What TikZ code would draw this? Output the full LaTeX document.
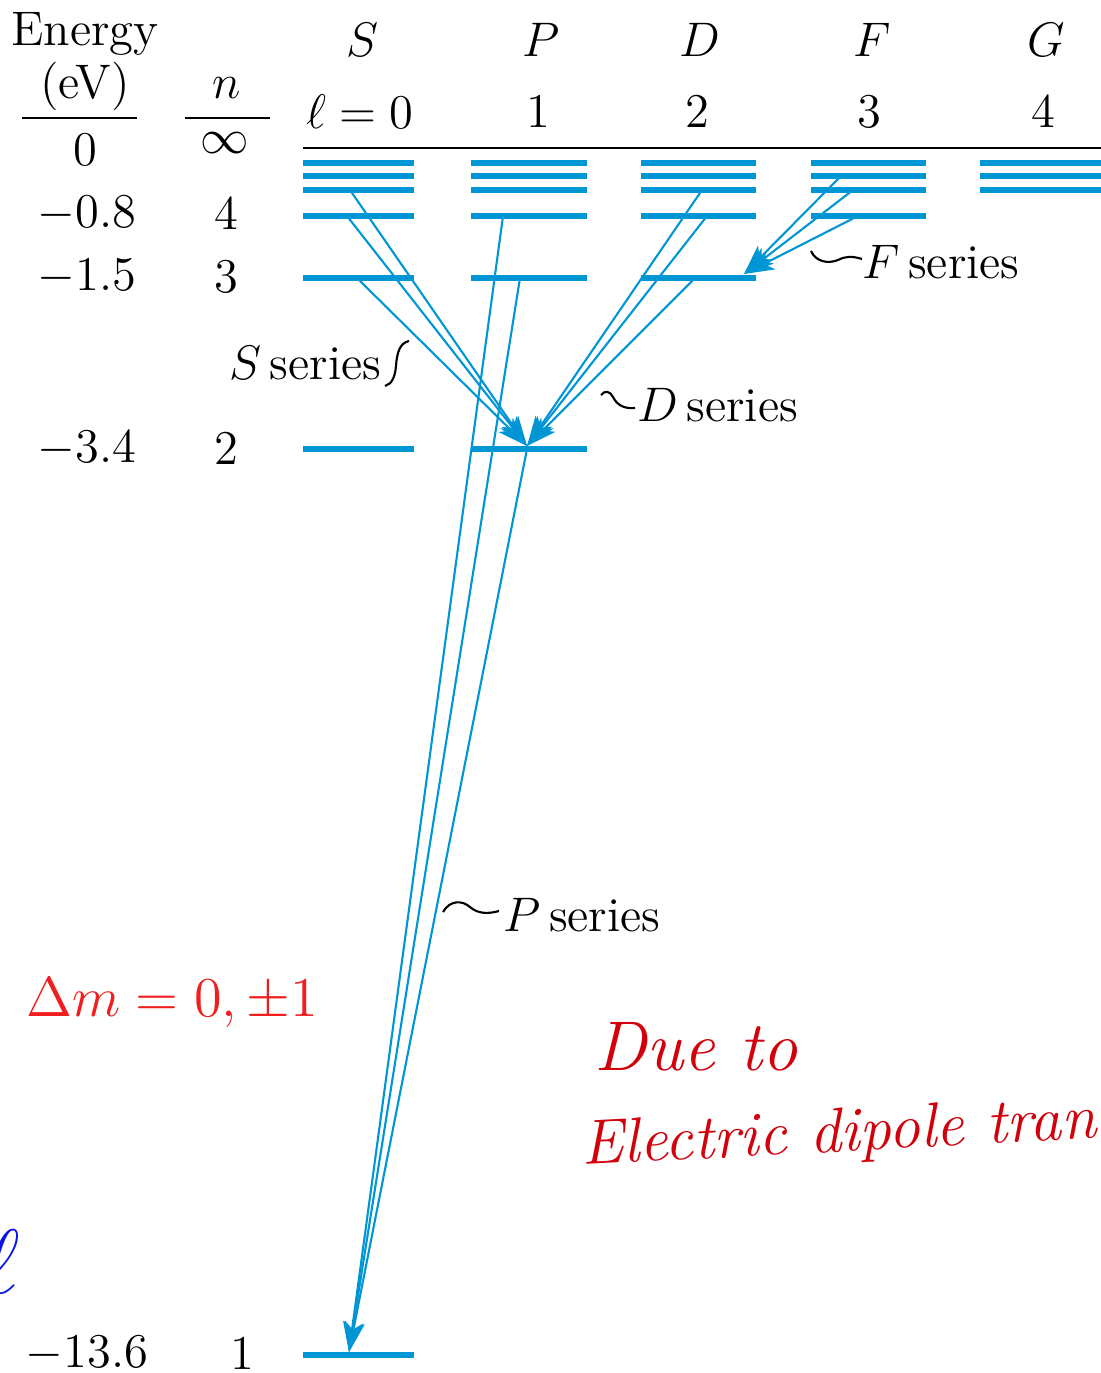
\documentclass[tikz,border=0pt]{standalone}
\usepackage{fix-cm}
\usepackage{fontspec}
\usepackage{amsmath}
\usetikzlibrary{arrows.meta}

\definecolor{levelblue}{RGB}{0,150,214}
\definecolor{notered}{RGB}{240,30,30}
\definecolor{handred}{RGB}{210,0,10}
\definecolor{handblue}{RGB}{10,20,230}

\begin{document}
\begin{tikzpicture}[
    x=0.01cm, y=-0.01cm,
    lab/.style={inner sep=0pt, font=\fontsize{13.8}{16}\selectfont},
    hand/.style={inner sep=0pt, text=handred, font=\itshape\fontsize{20}{24}\selectfont},
    enlevel/.style={levelblue, line width=1.5pt},
    trans/.style={levelblue, line width=0.6pt, -{Stealth[length=0.3cm, width=0.2cm, inset=0.08cm]}},
    rule/.style={black, line width=0.7pt},
    squig/.style={black, line width=0.6pt}
]
\useasboundingbox (0,0) rectangle (1101,1373);

% left columns
\node[lab] (energy) at (85,34) {Energy};
\node[lab] (ev) at (85,86) {(eV)};
\draw[rule] (22,118) -- (137,118);
\node[lab] (nhead) at (227,88) {$n$};
\draw[rule] (185,118) -- (270,118);
\node[lab] (en0) at (85,150) {$0$};
\node[lab] (ninf) at (225,143) {$\infty$};
\foreach \e/\nn/\y in {-0.8/4/214, -1.5/3/277, -3.4/2/449} {
    \node[lab] (en\nn) at (87,\y) {$\e$};
    \node[lab] (n\nn) at (226,\y) {$\nn$};
}
\node[lab] (en1) at (87,1354) {$-13.6$};
\node[lab] (n1) at (242,1354) {$1$};

% column heads
\node[lab] (hS) at (363,40) {$S$};
\node[lab] (l0) at (360,112) {$\ell = 0$};
\foreach \c/\l/\x in {P/1/541, D/2/700, F/3/872, G/4/1046} {
    \node[lab] (h\c) at (\x,40) {$\c$};
    \node[lab] (l\l) at (\x-3,112) {$\l$};
}
\draw[rule] (303,148) -- (1101,148);

% levels
\foreach \y in {163,176,190}
    \foreach \xa/\xb in {303/414, 471/587, 641/756, 811/926, 980/1101}
        \draw[enlevel] (\xa,\y) -- (\xb,\y);
\foreach \xa/\xb in {303/414, 471/587, 641/756, 811/926}
    \draw[enlevel] (\xa,216) -- (\xb,216);
\foreach \xa/\xb in {303/414, 471/587, 641/756}
    \draw[enlevel] (\xa,278) -- (\xb,278);
\draw[enlevel] (303,449) -- (414,449);
\draw[enlevel] (471,449) -- (587,449);
\draw[enlevel] (303,1355) -- (414,1355);

% start and end points of the lines
\coordinate (s5) at (350,190);
\coordinate (s4) at (347,216);
\coordinate (s3) at (357,278);
\coordinate (p4) at (503,216);
\coordinate (p3) at (520,278);
\coordinate (p2) at (527,449);
\coordinate (d5) at (702,190);
\coordinate (d4) at (707,216);
\coordinate (d3) at (695,278);
\coordinate (f6) at (840,177);
\coordinate (f5) at (853,190);
\coordinate (f4) at (858,216);
\coordinate (p2tip) at (527,446);
\coordinate (s1tip) at (349,1352);
\coordinate (d3tip) at (744,274);

% transitions
\foreach \a in {s5,s4,s3,d5,d4,d3}
    \draw[trans] (\a) -- (p2tip);
\foreach \a in {p4,p3,p2}
    \draw[trans] (\a) -- (s1tip);
\foreach \a in {f6,f5,f4}
    \draw[trans] (\a) -- (d3tip);

% series labels
\node[lab, anchor=west] (sser) at (229,363) {$S$\,series};
\draw[squig] (385,386) .. controls (392,384) and (395,377) .. (396,366)
    .. controls (397,352) and (400,343) .. (409,341);
\node[lab, anchor=west] (dser) at (637,405) {$D$\,series};
\draw[squig] (601,395) .. controls (605,390) and (610,391) .. (613,397)
    .. controls (617,405) and (624,409) .. (635,408);
\node[lab, anchor=west] (fser) at (862,262) {$F$\,series};
\draw[squig] (811,251) .. controls (816,262) and (828,264) .. (838,260)
    .. controls (846,256) and (852,256) .. (862,259);
\node[lab, anchor=west] (pser) at (503,915) {$P$\,series};
\draw[squig] (443,912) .. controls (450,900) and (462,900) .. (470,907)
    .. controls (478,914) and (488,914) .. (499,911);

% notes
\node[lab, text=notered, font=\fontsize{16}{19}\selectfont] (dmcut) at (-3,1006) {$,$};
\node[lab, text=notered, font=\fontsize{16}{19}\selectfont] (dm) at (172,1003) {$\Delta m = 0, \pm 1$};
\node[text=handblue, inner sep=0pt, font=\fontsize{26}{30}\selectfont] (ellnote) at (1,1262) {$\ell$};
\node[hand, anchor=base west] (due) at (594,1070) {Due to};
\node[hand, anchor=base west, rotate=3, font=\itshape\fontsize{18}{22}\selectfont] (edt) at (582,1165) {Electric dipole trans};
\end{tikzpicture}
\end{document}
